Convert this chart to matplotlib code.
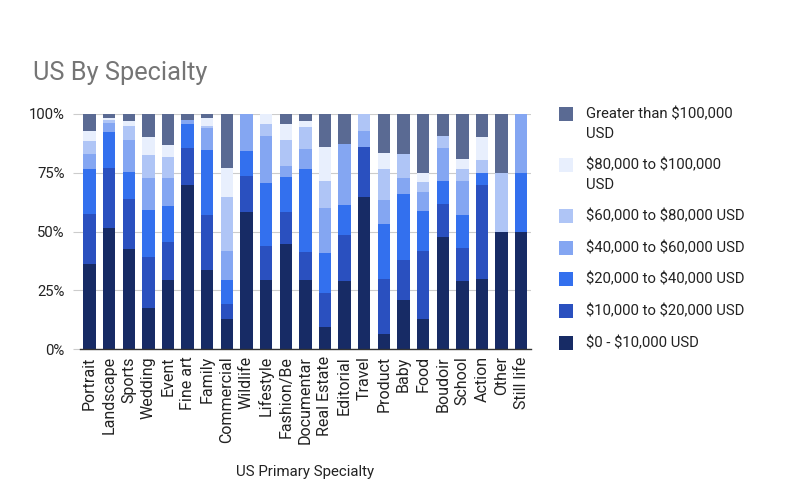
import matplotlib
matplotlib.use("Agg")
import matplotlib.pyplot as plt
from matplotlib.patches import Rectangle
import numpy as np

plt.rcParams['font.family'] = ['Roboto', 'DejaVu Sans']
plt.rcParams['text.parse_math'] = False

categories = ["Portrait", "Landscape", "Sports", "Wedding", "Event", "Fine art", "Family",
              "Commercial", "Wildlife", "Lifestyle", "Fashion/Be", "Documentar", "Real Estate",
              "Editorial", "Travel", "Product", "Baby", "Food", "Boudoir", "School", "Action",
              "Other", "Still life"]

s_0_10k   = [36.4, 51.7, 42.5, 17.6, 29.5, 69.7, 33.9, 12.7, 58.2, 29.5, 44.6, 29.5, 9.5, 29.0, 64.6, 6.7, 20.8, 12.7, 47.9, 29.0, 30.0, 50.0, 50.0]
s_10_20k  = [21.2, 25.4, 21.5, 21.5, 16.3, 16.0, 23.2, 6.6, 15.6, 14.6, 13.6, 12.0, 14.6, 19.6, 21.2, 23.2, 17.2, 29.2, 14.0, 14.1, 40.0, 0.0, 0.0]
s_20_40k  = [18.9, 15.1, 11.5, 20.1, 15.1, 9.9, 27.6, 10.3, 10.3, 26.4, 15.2, 35.1, 16.7, 12.9, 0.0, 23.4, 27.9, 16.7, 9.8, 14.0, 4.9, 0.0, 25.0]
s_40_60k  = [6.5, 3.8, 13.6, 13.6, 11.9, 1.8, 9.5, 12.3, 15.9, 20.2, 4.4, 8.7, 19.1, 25.9, 7.1, 10.2, 6.8, 8.1, 14.0, 14.6, 0.0, 0.0, 25.0]
s_60_80k  = [5.5, 1.4, 5.9, 9.6, 8.8, 0.0, 0.8, 22.7, 0.0, 4.9, 11.3, 9.2, 11.8, 0.0, 7.1, 13.0, 10.2, 4.3, 4.8, 4.9, 5.4, 25.0, 0.0]
s_80_100k = [4.4, 1.1, 2.2, 7.7, 5.4, 0.0, 3.5, 12.6, 0.0, 4.4, 6.5, 2.7, 14.1, 0.0, 0.0, 7.1, 0.0, 4.1, 0.0, 4.3, 9.9, 0.0, 0.0]
s_gt_100k = [7.1, 1.5, 2.8, 9.9, 13.0, 2.6, 1.5, 22.8, 0.0, 0.0, 4.4, 2.8, 14.2, 12.6, 0.0, 16.4, 17.1, 24.9, 9.5, 19.1, 9.8, 25.0, 0.0]

series_labels = ["$0 - $10,000 USD", "$10,000 to $20,000 USD", "$20,000 to $40,000 USD",
                 "$40,000 to $60,000 USD", "$60,000 to $80,000 USD",
                 "$80,000 to $100,000\nUSD", "Greater than $100,000\nUSD"]
series = [s_0_10k, s_10_20k, s_20_40k, s_40_60k, s_60_80k, s_80_100k, s_gt_100k]
colors = ["#172b65", "#2a50bf", "#3370ee", "#84a6f2", "#afc5f6", "#e8effd", "#5a6a93"]

fig = plt.figure(figsize=(8, 4.96), dpi=100)
ax = fig.add_axes([79.7/800, 1 - 349.3/496, (531 - 79.7)/800, (349.3 - 114)/496])

data = np.array(series, dtype=float)
totals = data.sum(axis=0)
pct = data / totals * 100
x = np.arange(len(categories))
bottom = np.zeros(len(categories))
for vals, col, lab in zip(pct, colors, series_labels):
    ax.bar(x, vals, bottom=bottom, width=0.63, color=col, label=lab, zorder=2, linewidth=0)
    bottom += vals

ax.set_xlim(-0.5, len(categories) - 0.5)
ax.set_ylim(0, 100)
ax.set_yticks([0, 25, 50, 75, 100])
ax.set_yticklabels(["0%", "25%", "50%", "75%", "100%"], fontsize=10.7, color="#222222")
ax.yaxis.grid(True, color="#cccccc", linewidth=0.8, zorder=0)
ax.tick_params(axis='y', length=5, color="#cccccc", pad=6)
ax.set_xticks(x)
ax.set_xticklabels(categories, rotation=90, fontsize=11.5, color="#222222")
ax.tick_params(axis='x', length=0, pad=5)
for sp in ["top", "right", "left"]:
    ax.spines[sp].set_visible(False)
ax.spines["bottom"].set_color("#333333")
ax.spines["bottom"].set_linewidth(1.0)
ax.spines["bottom"].set_zorder(3)

fig.text(33/800, 1 - 73/496, "US By Specialty", fontsize=18.3, color="#757575", va="center", ha="left")
fig.text(305/800, 1 - 472/496, "US Primary Specialty", fontsize=10.8, color="#222222", va="center", ha="center")

# legend (reversed order, top = Greater than)
leg_y = [114, 165, 216, 248, 279, 311, 343]
for i, (lab, col) in enumerate(zip(series_labels[::-1], colors[::-1])):
    yc = leg_y[i]
    fig.patches.append(Rectangle((559/800, 1 - (yc + 7)/496), 14/800, 14/496,
                                 transform=fig.transFigure, facecolor=col, edgecolor="none"))
    lines = lab.split("\n")
    for j, ln in enumerate(lines):
        fig.text(586/800, 1 - (yc + 20*j)/496, ln, fontsize=10.7, color="#222222", va="center", ha="left")

fig.savefig("out.png", dpi=100)
